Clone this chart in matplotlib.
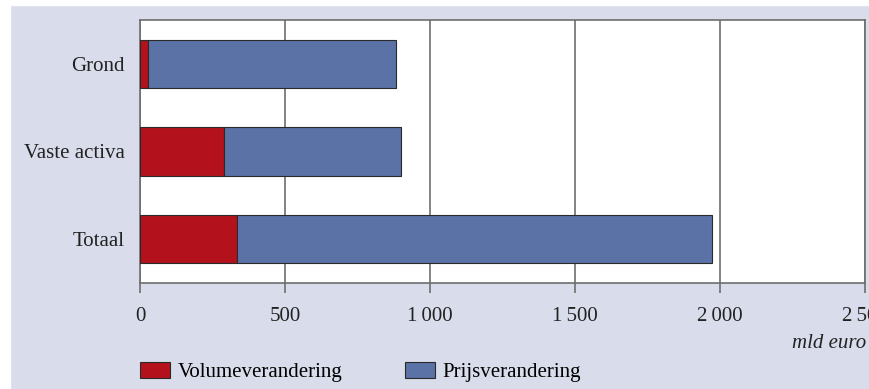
import matplotlib.pyplot as plt
from matplotlib.patches import Rectangle

categories = ["Totaal", "Vaste activa", "Grond"]
volume = [333, 288, 28]
prijs = [1639, 612, 855]
xticks = [0, 500, 1000, 1500, 2000, 2500]
xticklabels = ["0", "500", "1\u2009000", "1\u2009500", "2\u2009000", "2\u2009500"]

RED = "#B3121C"
BLUE = "#5B72A7"
BG = "#D9DCEA"
GRID = "#6E6E6E"
FS = 15

plt.rcParams["font.family"] = ["Liberation Serif", "DejaVu Serif"]

fig = plt.figure(figsize=(8.7, 3.89), dpi=100, facecolor=BG)
# white strips along the top and left edge
fig.patches.append(Rectangle((0, (389 - 5) / 389), 1, 5 / 389,
                             transform=fig.transFigure, color="white", zorder=-5))
fig.patches.append(Rectangle((0, 0), 10 / 870, 1,
                             transform=fig.transFigure, color="white", zorder=-5))

ax = fig.add_axes([140 / 870, 1 - 283 / 389, 725 / 870, 263 / 389])
ax.set_facecolor("white")

pos = range(len(categories))
ax.barh(pos, volume, height=0.55, color=RED, edgecolor="#2a2a2a",
        linewidth=0.8, zorder=3, label="Volumeverandering")
ax.barh(pos, prijs, left=volume, height=0.55, color=BLUE,
        edgecolor="#2a2a2a", linewidth=0.8, zorder=3, label="Prijsverandering")

ax.set_xlim(0, 2500)
ax.set_ylim(-0.5, 2.5)
ax.set_xticks(xticks)
ax.set_xticklabels(xticklabels, fontsize=FS, color="#222222")
ax.set_yticks(list(pos))
ax.set_yticklabels(categories, fontsize=FS, color="#222222")
ax.tick_params(axis="y", length=0, pad=11)
ax.tick_params(axis="x", length=7, width=1.2, color=GRID, pad=10)
ax.xaxis.grid(True, color=GRID, linewidth=1.2, zorder=1)
for s in ax.spines.values():
    s.set_color(GRID)
    s.set_linewidth(1.2)

fig.text(866 / 870, 1 - 343 / 389, "mld euro", style="italic",
         fontsize=FS, ha="right", va="center", color="#222222")

handles, labels = ax.get_legend_handles_labels()
fig.legend(handles, labels, loc="center left",
           bbox_to_anchor=(140 / 870, 1 - 372 / 389), ncol=2, frameon=False,
           fontsize=FS, handlelength=1.45, handleheight=0.77,
           columnspacing=3.0, handletextpad=0.35, borderaxespad=0,
           borderpad=0)

fig.savefig("out.png", dpi=100, facecolor=fig.get_facecolor())
